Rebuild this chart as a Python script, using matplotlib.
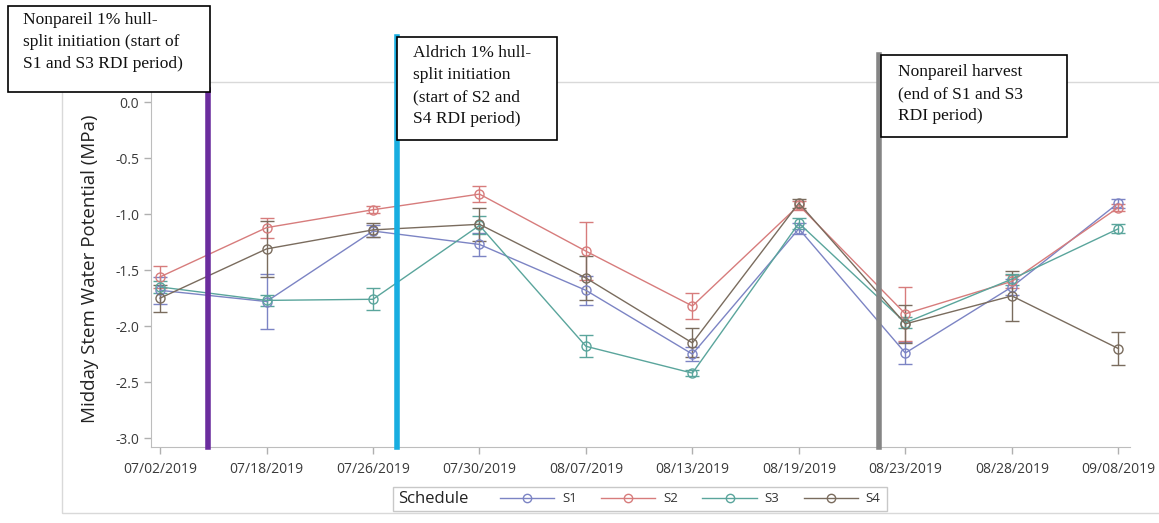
import matplotlib
matplotlib.use("Agg")
import matplotlib.pyplot as plt
from matplotlib.patches import Rectangle
from matplotlib.lines import Line2D

# Sampling dates
dates = ["07/02/2019", "07/18/2019", "07/26/2019", "07/30/2019", "08/07/2019",
         "08/13/2019", "08/19/2019", "08/23/2019", "08/28/2019", "09/08/2019"]

# Mean midday stem water potential (MPa) per irrigation schedule
s1 = [-1.68, -1.78, -1.15, -1.27, -1.68, -2.25, -1.13, -2.24, -1.65, -0.90]
s2 = [-1.56, -1.12, -0.96, -0.82, -1.33, -1.82, -0.92, -1.89, -1.60, -0.94]
s3 = [-1.65, -1.77, -1.76, -1.10, -2.18, -2.42, -1.08, -1.97, -1.58, -1.13]
s4 = [-1.75, -1.31, -1.14, -1.09, -1.57, -2.15, -0.90, -1.98, -1.73, -2.20]

# Standard errors
s1_err = [0.12, 0.25, 0.05, 0.10, 0.13, 0.06, 0.05, 0.10, 0.07, 0.04]
s2_err = [0.10, 0.09, 0.03, 0.07, 0.26, 0.12, 0.04, 0.24, 0.06, 0.03]
s3_err = [0.05, 0.05, 0.10, 0.08, 0.10, 0.03, 0.05, 0.05, 0.05, 0.04]
s4_err = [0.12, 0.25, 0.06, 0.15, 0.20, 0.13, 0.04, 0.17, 0.22, 0.15]

series_names = ["S1", "S2", "S3", "S4"]
series_colors = ["#7c84c4", "#d77c7c", "#5aa59c", "#7a6c5e"]

# Event markers (positions on the date axis)
event_pos = [0.45, 2.23, 6.75]
event_colors = ["#6b2d9e", "#18ade0", "#858585"]

W, H = 1159, 523
fig = plt.figure(figsize=(W / 100, H / 100), dpi=100)
plt.rcParams["font.family"] = ["Open Sans", "DejaVu Sans"]

def fx(px):
    return px / W

def fy(py):
    return 1 - py / H

# Outer graph frame
fig.patches.append(Rectangle((fx(62), fy(513)), fx(1200) - fx(62), fy(82) - fy(513),
                             transform=fig.transFigure, fill=False,
                             edgecolor="#d9d9d9", linewidth=1.0, zorder=0))

ax = fig.add_axes([fx(151), fy(447), fx(1130) - fx(151), fy(90) - fy(447)])
x = list(range(len(dates)))

for vals, errs, name, col in zip([s1, s2, s3, s4], [s1_err, s2_err, s3_err, s4_err],
                                 series_names, series_colors):
    ax.errorbar(x, vals, yerr=errs, color=col, linewidth=1.0, marker="o",
                markersize=6.5, markerfacecolor="none", markeredgewidth=1.0,
                capsize=5, elinewidth=1.0, capthick=1.0, label=name, zorder=3)

ax.set_xlim(-0.085, 9.11)
ax.set_ylim(-3.08, 0.11)
ax.set_xticks(x)
ax.set_xticklabels(dates)
ax.set_yticks([0.0, -0.5, -1.0, -1.5, -2.0, -2.5, -3.0])
ax.set_yticklabels(["0.0", "-0.5", "-1.0", "-1.5", "-2.0", "-2.5", "-3.0"])
ax.tick_params(axis="both", colors="#b0b0b0", labelcolor="#3a3a3a",
               labelsize=10, length=5, width=1)
ax.tick_params(axis="x", pad=6)
for side in ["top", "right"]:
    ax.spines[side].set_visible(False)
for side in ["left", "bottom"]:
    ax.spines[side].set_color("#bdbdbd")
ax.set_ylabel("Midday Stem Water Potential (MPa)", fontsize=13.5, color="#222222",
              labelpad=12)

# Vertical event lines
line_tops = [fy(90), fy(37), fy(55)]
for pos, col, top in zip(event_pos, event_colors, line_tops):
    xf = ax.transData.transform((pos, 0))[0] / fig.dpi / fig.get_figwidth()
    fig.add_artist(Line2D([xf, xf], [fy(447), top], transform=fig.transFigure,
                          color=col, linewidth=4, zorder=5))

# Annotation boxes
serif = ["Liberation Serif", "DejaVu Serif"]
boxes = [
    ((8, 6, 210, 92), (23, 12), "Nonpareil 1% hull-\nsplit initiation (start of\nS1 and S3 RDI period)"),
    ((397, 37, 557, 140), (413, 45), "Aldrich 1% hull-\nsplit initiation\n(start of S2 and\nS4 RDI period)"),
    ((881, 55, 1067, 137), (898, 64), "Nonpareil harvest\n(end of S1 and S3\nRDI period)"),
]
for (x0, y0, x1, y1), (tx, ty), txt in boxes:
    fig.patches.append(Rectangle((fx(x0), fy(y1)), fx(x1) - fx(x0), fy(y0) - fy(y1),
                                 transform=fig.transFigure, facecolor="white",
                                 edgecolor="black", linewidth=1.2, zorder=6))
    fig.text(fx(tx), fy(ty), txt, ha="left", va="top", fontsize=12.5,
             family=serif, color="#111111", linespacing=1.5, zorder=7)

# Legend with a side title
fig.patches.append(Rectangle((fx(393), fy(511)), fx(887) - fx(393), fy(487) - fy(511),
                             transform=fig.transFigure, facecolor="white",
                             edgecolor="#c8c8c8", linewidth=1.0, zorder=6))
fig.text(fx(398), fy(499), "Schedule", ha="left", va="center", fontsize=12,
         color="#222222", zorder=7)
handles = [Line2D([], [], color=c, linewidth=1.0, marker="o", markersize=6,
                  markerfacecolor="none") for c in series_colors]
leg = fig.legend(handles, series_names, ncol=4, loc="center left",
                 bbox_to_anchor=(fx(500), fy(499)), frameon=False, fontsize=9.5,
                 handlelength=4.1, columnspacing=1.85, handletextpad=0.6,
                 borderaxespad=0, borderpad=0)
leg.set_zorder(8)
for t in leg.get_texts():
    t.set_color("#333333")

fig.savefig("out.png", dpi=100)
